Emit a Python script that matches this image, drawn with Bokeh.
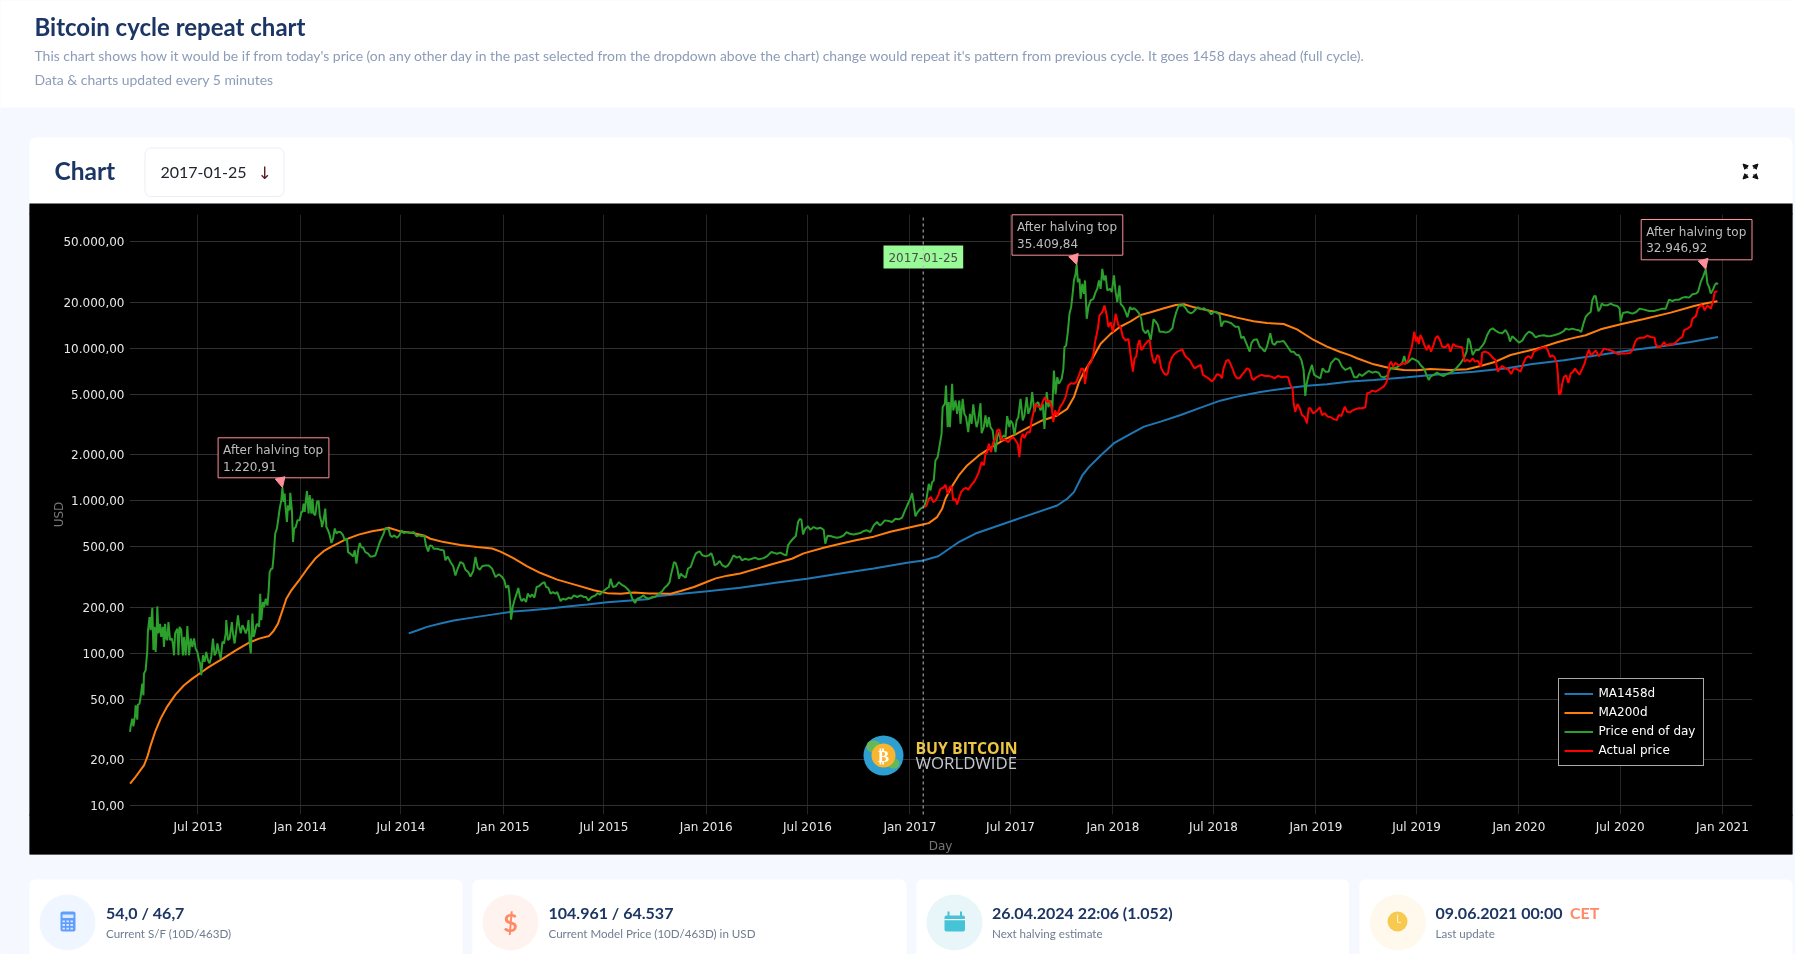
import math
import pandas as pd
from bokeh.plotting import figure
from bokeh.embed import file_html
from bokeh.resources import INLINE
from bokeh.models import (BoxAnnotation, Label, Legend, LegendItem, FixedTicker, Range1d,
                          Arrow, NormalHead)

BASE = pd.Timestamp("2013-02-28")

g1_d = [1,2,5,7,10,11,14,15,18,20,23,25,26,29,32,33,36,38,41,43,45,47,49,50,52,55,57,60,62,64,66,68,70,73,76,78,80,82,86,88,90,93,96,98,101,104,107,110,113,116,119,122,125,127,129,132,135,138,141,144,147,150,153,156,158,161,164,167,170,173,174,177,180,184,186,189,192,195,197,200,203,206,209,212,214,216,218,221,223,225,228,230,233,235,237,240,242,245,248,250,252,255,257,259,262,265,268,270,273,275,277,279,280,283,285,288,289,292,294,296,299,302,306,309,311,313,315,319,322,324,327,329,331,334,337,340,342,345,346,349,352,354,357,360,363,366,369,372,375,379,384,387,391,393,397,402,405,408,411,414,417,420,424,429,433,437,442,446,450,454,457,460]
g1_v = [30.5,32.9,37.3,33.2,39.2,45.6,36.7,46,46.8,51.7,63.2,53,73.6,77.3,104.6,138,173,142,199,105,149,102,149,203,135,156,128,149,110,156,125,122,160,122,125,116,97,135,145,97,149,142,97,128,97,151,97,125,110,125,107,102,90,86,72,97,88,102,90,86,95,125,97,102,116,102,92,119,116,135,165,122,125,160,135,116,142,177,153,135,153,145,135,145,165,116,100,182,128,135,153,156,149,246,165,217,201,228,206,252,341,359,359,428,610,658,783,889,1010,1220.91,983,1115,957,726,935,866,1127,866,537,658,673,745,745,845,845,957,845,1160,825,1090,825,1035,825,805,983,998,805,726,673,745,889,673,640,595,529,565,658,610,625,625,595,550,565,461,450,432,473,387,473,529,494,494,461,450,432,432,438,486,537,578,610,664]
g2_d = [466,469,472,476,481,485,489,493,499,505,511,516,520,526,530,533,537,540,544,547,553,559,565,568,572,577,582,586,590,595,600,604,609,613,618,622,626,630,634,640,646,652,658,664,670,674,677,681,683,685,686,689,692,696,699,702,705,709,713,716,720,724,728,732,736,741,746,749,753,757,761,766,769,775,779,784,790,794,799,805,811,817,821,825,831,838,841,846,850,854,859,862,865,869,874,880,884,890,895,900,904,909,913,919,924,928,934]
g2_v = [650,593,579,593,573,593,640,614,624,614,624,585,593,585,593,510,466,510,505,485,485,478,473,407,432,397,372,324,359,397,387,353,341,319,346,428,364,353,372,377,377,359,316,330,316,301,269,279,246,196,166,201,222,246,268,234,220,228,217,246,234,243,232,272,275,286,293,272,269,246,252,246,252,220,228,225,232,228,240,234,240,234,234,222,234,240,248,243,252,259,268,272,308,272,275,293,283,275,265,252,228,214,228,232,240,232,228]
g3_d = [940,946,952,958,962,967,971,974,977,979,982,985,988,991,994,1000,1004,1009,1013,1018,1022,1025,1030,1036,1042,1046,1049,1052,1057,1061,1066,1072,1076,1080,1086,1092,1097,1101,1107,1113,1119,1125,1131,1140,1146,1154,1158,1164,1170,1176,1181,1184,1188,1193,1198,1202,1205,1208,1211,1215,1220,1224,1230,1236,1242,1248,1251,1255,1260,1266,1272,1278,1284,1289,1295,1302,1308,1314,1320,1326,1332,1338,1344,1349,1353,1358,1365,1371,1377,1383,1389,1393,1397,1401,1404,1407,1410,1413,1417,1422,1427,1429]
g3_v = [234,236,246,256,269,279,293,333,368,397,391,359,308,333,324,313,359,368,407,450,461,466,439,432,439,454,424,377,387,403,377,368,377,397,439,424,432,407,417,411,417,424,413,421,432,461,457,450,457,445,439,510,537,564,587,726,759,752,602,656,680,646,673,656,666,646,523,590,587,579,573,579,593,624,608,602,608,614,634,640,624,690,726,690,708,744,737,726,763,756,775,844,910,982,1032,1124,957,790,844,887,910,919]
g4_d = [1433,1437,1440,1443,1446,1449,1453,1456,1460,1462,1466,1468,1471,1473,1475,1479,1481,1485,1488,1492,1494,1498,1501,1504,1508,1511,1514,1517,1520,1523,1526,1530,1532,1536,1539,1542,1545,1548,1552,1554,1557,1560,1564,1566,1569,1572,1575,1578,1582,1584,1588,1591,1595,1598,1602,1606,1609,1613,1616,1620,1623,1627,1630,1634,1638,1642,1645,1649,1652,1656,1659,1662,1665,1668,1671,1676,1679,1681,1684,1687,1690,1693,1696,1698,1701,1703,1705,1708,1710,1713,1716,1718,1721,1724,1728,1733,1737,1740,1743,1746,1749,1752,1755,1758,1763,1766,1770,1773,1776,1780,1782,1787,1791,1794,1799]
g4_v = [1031,1292,1169,1325,1359,1839,1933,2248,2750,4114,4325,5705,3041,4436,3041,5851,3911,4549,3720,4549,3198,4666,3720,3537,2820,3720,3198,4285,3537,3041,3363,4365,2778,3041,3627,3041,3537,3041,2892,2487,2085,2615,2820,2487,2615,2682,2615,3591,3041,3363,3198,2682,3363,3537,4666,3363,3627,4785,3720,4114,5160,3815,4325,4436,3911,4325,2965,5160,4114,4549,3911,7154,5030,6470,5851,6310,7337,10180,10437,12765,16830,18620,23350,27860,30800,35409.84,27160,28560,21120,26480,22770,27860,15610,18620,20590,21120,23350,24550,27860,24550,33200,27860,30030,23950,24550,23350,30030,23350,20090,25820,19590,18620,17270,16000,18620]
g5_d = [1802,1806,1810,1815,1819,1822,1827,1831,1836,1839,1841,1845,1849,1852,1858,1863,1869,1875,1878,1882,1887,1890,1894,1899,1903,1908,1912,1917,1921,1926,1932,1936,1940,1945,1950,1955,1960,1963,1967,1973,1981,1988,1994,1999,2003,2008,2014,2017,2021,2027,2032,2036,2041,2045,2051,2055,2059,2063,2069,2075,2080,2084,2088,2093,2098,2102,2107,2111,2114,2116,2120,2126,2130,2135,2141,2145,2150,2156,2160,2168,2174,2180,2186,2192,2195]
g5_v = [18020,18300,17840,16960,15730,13190,12540,13190,11340,13520,15490,14960,14220,12860,12860,12670,12860,13520,15340,17300,19240,18970,19240,18300,17370,16960,17220,18020,18560,18020,18300,17840,17660,16710,17370,17220,16540,13870,14960,14960,14590,13870,13870,11630,11930,10780,9510,10780,11340,11460,10250,10000,9510,10250,12540,10780,10520,11060,11060,11170,10520,10000,9510,9510,9040,9040,8390,7210,4870,5750,6690,7780,6690,6520,6360,7390,7030,7030,7970,8600,8390,7580,7210,7390,7510]
g6_d = [2198,2202,2207,2211,2216,2222,2228,2234,2240,2246,2250,2255,2261,2267,2273,2279,2284,2288,2292,2295,2300,2306,2312,2317,2321,2327,2332,2336,2339,2345,2351,2357,2363,2369,2375,2381,2387,2393,2399,2404,2407,2410,2413,2415,2420,2426,2432,2436,2441,2446,2451,2456,2462,2468,2474,2479,2482,2486,2492,2498,2504,2510,2516,2522,2528,2534,2537]
g6_v = [7030,6450,6450,6790,6590,6850,7100,6920,7030,6920,6520,6450,6590,7390,7390,7510,7780,7970,8910,7970,8180,8600,8390,8180,7780,7390,6690,6200,6520,6690,6920,6690,6590,6790,6920,7140,7510,7970,8600,9510,11630,11060,9750,9040,9750,9750,10360,10890,12230,13190,13520,13060,12670,12550,13190,12230,11060,11990,11460,10890,11230,12230,12860,12550,11800,12050,12110]
g7_d = [2543,2549,2555,2561,2567,2573,2579,2582,2588,2594,2600,2606,2610,2614,2618,2622,2627,2630,2633,2636,2638,2641,2644,2647,2651,2657,2663,2669,2675,2679,2681,2685,2693,2702,2709,2715,2723,2732,2741,2750,2756,2762,2768,2774,2780,2786,2792,2798,2804,2810,2816,2820,2825,2829,2834,2837,2840,2843,2847,2850,2853,2856]
g7_v = [12170,11990,12050,12170,12350,12600,13000,13460,13260,13460,13260,13120,12790,14510,16050,16710,17300,20640,21930,22040,20130,17480,18200,19630,19140,19140,19630,19140,18950,18200,15030,17050,17300,16880,17300,18200,17930,17570,17570,17930,18200,18200,20850,20430,20850,20850,21490,21710,21490,22600,22830,23400,27230,29370,32946.92,26550,25230,22830,24270,25880,26790,26300]

r1_d = [1430,1433,1437,1441,1445,1449,1454,1458,1463,1467,1471,1475,1478,1481,1485,1488,1492,1495,1500,1504,1508,1513,1518,1523,1527,1532,1536,1539,1542,1545,1549,1553,1557,1560,1564,1568,1572,1576,1580,1584,1589,1593,1597,1600,1603,1606,1609,1614,1619,1622,1626,1629,1633,1638,1643,1646,1650,1654,1658,1661,1664,1668,1673,1678,1683,1688,1693,1698,1702,1707,1711,1715,1718,1721,1724,1729,1733,1736,1741,1744,1749,1753,1757,1760,1764,1768,1773,1778,1782,1786,1791,1796,1800]
r1_v = [909,932,1031,1057,980,1005,1084,1198,1217,1273,1111,1229,1248,1005,1031,946,1057,1140,1198,1217,1180,1260,1325,1429,1542,1793,1705,2033,2085,2365,2085,2425,2551,2892,2937,2487,2551,2487,2425,2551,2615,2487,2365,1933,2551,2750,2576,2820,2820,3363,3911,4325,4156,4114,4549,4785,4436,4549,4114,3280,3911,3627,4114,4365,4785,5705,5910,5851,5999,6635,7337,7337,5851,6978,7719,8118,9204,10970,13420,16420,17270,19100,16420,13760,14850,12765,16830,14120,13760,11840,11250,11540,8970]
r2_d = [1804,1807,1810,1813,1816,1819,1822,1825,1830,1834,1837,1840,1843,1848,1851,1855,1860,1864,1867,1870,1875,1879,1884,1888,1893,1897,1902,1906,1911,1915,1920,1926,1930,1935,1940,1946,1951,1955,1960,1964,1967,1972,1976,1979,1984,1987,1991,1996,2000,2005,2009,2014,2018,2021,2026,2031,2036,2042,2048,2053,2059,2065,2072,2078,2083,2087,2091,2093,2096,2100,2104,2108,2113,2117,2120,2123,2128,2133,2140,2144,2149,2154,2160,2166,2171,2174,2179,2185,2189,2195]
r2_v = [7030,8600,8820,10520,11340,9750,10000,10520,11060,11340,9510,8390,7970,9040,8820,7390,6850,6690,6850,7970,8820,9180,9510,9650,9850,9040,8600,8390,7780,7390,7580,7780,6690,6520,6360,6050,6360,6750,6690,6360,7390,8300,8390,7970,7210,6690,6360,6360,6690,7030,7390,7210,6360,6200,6450,6590,6690,6590,6590,6520,6360,6590,6450,6520,6450,5750,5470,4360,3840,4310,4040,3650,3530,3220,4040,4040,3750,3840,4100,3650,3750,3565,3530,3420,3390,3650,3600,4140,3840,3800]
r3_d = [2198,2204,2210,2216,2222,2225,2230,2234,2240,2246,2250,2255,2259,2262,2265,2268,2272,2276,2281,2285,2289,2294,2299,2302,2305,2308,2310,2313,2315,2318,2321,2325,2328,2332,2336,2340,2344,2348,2352,2356,2360,2366,2371,2375,2380,2384,2390,2396,2400,2405,2410,2415,2419,2424,2430,2432,2437,2442,2447,2452,2456,2460,2464,2468,2474,2480,2484,2489,2495,2501,2506,2510,2515,2520,2525,2531,2537]
r3_v = [3900,3980,4040,4040,4100,5070,5120,5280,5200,5330,5470,5610,5900,6360,7780,8180,7580,8050,7780,7780,7970,7900,8390,9270,10000,11630,12860,11060,11930,10680,12230,11340,10520,9750,10520,9510,10360,11630,12050,11340,10250,10150,10680,9510,10680,10360,10250,10150,8180,8390,8180,8600,8180,8300,7580,9370,9510,9370,9040,8600,8390,7030,7390,7660,7390,7210,6790,7390,7280,7030,7970,8600,8910,8600,9510,9750,10000]
r4_d = [2540,2546,2550,2554,2558,2562,2566,2568,2570,2573,2576,2579,2583,2587,2591,2595,2599,2603,2607,2612,2616,2620,2624,2627,2631,2636,2642,2647,2651,2657,2663,2669,2676,2682,2690,2698,2702,2707,2711,2717,2723,2729,2735,2742,2744,2748,2754,2759,2763,2769,2775,2781,2787,2792,2795,2801,2807,2810,2816,2820,2825,2829,2832,2837,2843,2847,2850,2855]
r4_v = [10100,10200,9700,8770,9000,8770,8010,6820,4990,5040,5870,6480,6650,5930,6820,7000,7360,7000,6720,7360,7930,9000,9800,9000,9230,9700,8860,9460,9950,9800,9700,9460,9140,9230,9230,9320,9700,11000,11570,11740,11740,12110,11860,11740,10620,10200,10300,11000,10460,10620,10620,11000,11570,11860,13120,13460,13940,15650,16200,18200,19140,18950,17740,19140,18200,20130,23400,23650]

ma200_d = [1,11,26,32,38,46,56,68,83,98,113,128,143,167,191,215,233,251,259,267,275,282,291,304,319,334,349,364,388,412,436,460,466,487,511,529,541,565,595,625,652,667,691,715,739,769,805,835,859,883,907,934,943,973,991,1015,1033,1054,1075,1098,1128,1158,1191,1212,1248,1278,1308,1338,1368,1398,1428,1437,1452,1461,1467,1476,1491,1506,1527,1548,1572,1593,1617,1641,1668,1686,1698,1707,1716,1731,1746,1764,1782,1800,1818,1836,1860,1881,1896,1914,1944,1967,1991,2021,2045,2075,2099,2129,2153,2177,2195,2207,2237,2267,2291,2315,2339,2375,2405,2429,2453,2483,2513,2537,2567,2591,2618,2645,2681,2723,2771,2813,2837,2855]
ma200_v = [14,15.5,18.4,20.9,24.9,30.5,37.3,44.9,53.8,61.7,68.2,74.6,81.4,92,104.6,117.5,124.8,130,140,156.5,191,228,259,298,356,418,467,503,556,600,631,653,666,630,614,593,564,536,513,497,487,464,419,372,336,304,279,259,248,246,250,247,247,246,256,272,289,310,323,334,359,387,417,452,492,523,553,582,627,663,701,714,782,886,1031,1198,1466,1705,1983,2226,2513,2723,3041,3363,3627,4010,4785,5999,6978,8530,10700,12440,13900,15000,16540,17220,18300,19240,19440,18560,17570,16710,15890,15040,14660,14440,13320,11340,10250,9460,8990,8600,7850,7390,7210,7170,7320,7210,7280,7660,8090,9040,9600,10100,10950,11570,12170,13320,14370,15580,17140,18950,19830,20340]
ma1458_d = [502,517,535,559,583,619,655,685,715,751,787,823,859,895,931,949,979,1039,1098,1158,1218,1278,1338,1398,1427,1454,1490,1521,1585,1668,1686,1698,1713,1725,1746,1770,1800,1824,1854,1890,1926,1961,1991,2033,2081,2117,2153,2195,2237,2297,2357,2417,2477,2519,2579,2639,2699,2759,2807,2856]
ma1458_v = [135,141,149,157,164,172,180,187,191,196,203,209,216,221,226,237,243,255,269,289,308,334,360,393,406,433,533,610,735,932,1031,1140,1466,1663,1983,2388,2750,3063,3306,3655,4085,4535,4820,5175,5470,5690,5810,6050,6200,6450,6760,7030,7390,7850,8340,9000,9700,10360,11000,11860]

price_days = g1_d + g2_d + g3_d + g4_d + g5_d + g6_d + g7_d
price_vals = g1_v + g2_v + g3_v + g4_v + g5_v + g6_v + g7_v
actual_days = r1_d + r2_d + r3_d + r4_d
actual_vals = r1_v + r2_v + r3_v + r4_v

x_tick_dates = ["2013-07-01","2014-01-01","2014-07-01","2015-01-01","2015-07-01","2016-01-01","2016-07-01","2017-01-01",
                "2017-07-01","2018-01-01","2018-07-01","2019-01-01","2019-07-01","2020-01-01","2020-07-01","2021-01-01"]
x_tick_labels = ["Jul 2013","Jan 2014","Jul 2014","Jan 2015","Jul 2015","Jan 2016","Jul 2016","Jan 2017",
                 "Jul 2017","Jan 2018","Jul 2018","Jan 2019","Jul 2019","Jan 2020","Jul 2020","Jan 2021"]
y_ticks = [10,20,50,100,200,500,1000,2000,5000,10000,20000,50000]
y_labels = ["10,00","20,00","50,00","100,00","200,00","500,00","1.000,00","2.000,00","5.000,00","10.000,00","20.000,00","50.000,00"]
selected_date = "2017-01-25"
tops = [(275, 1220.91, "1.220,91"), (1703, 35409.84, "35.409,84"), (2834, 32946.92, "32.946,92")]


def dt(days):
    return BASE + pd.to_timedelta(days, unit="D")


def ms(ts):
    return ts.value / 1e6


L, R, T, B = 129, 1752, 214, 814
W, H = 1795, 954
PAGE = "Lato"
CHART = "DejaVu Sans"
NAVY = "#1b3564"


def xv(px):
    return dt((px - L) / 0.5562)


def yv(py):
    return 10 ** (1 + (805.3 - py) / 152.5)


p = figure(width=W, height=H, output_backend="svg", toolbar_location=None,
           x_axis_type="datetime", y_axis_type="log",
           x_range=Range1d(xv(0), xv(W)), y_range=Range1d(yv(H), yv(0)),
           min_border=0, background_fill_color="#f5f8ff", border_fill_color="#f5f8ff", outline_line_color=None)
p.styles = {"position": "fixed", "left": "0px", "top": "0px"}


def sx(px):
    return px


def sy(py):
    return H - py


def box(l, t, r, b, color, level="underlay", radius=0, line=None):
    p.add_layout(BoxAnnotation(left=sx(l), right=sx(r), top=sy(t), bottom=sy(b),
                               left_units="screen", right_units="screen", top_units="screen", bottom_units="screen",
                               fill_color=color, fill_alpha=1, line_color=line, line_alpha=1 if line else 0, line_width=1,
                               level=level, border_radius=radius))


def lab(px, py, text, color, size, font=PAGE, style="normal", align="left", angle=0, level="annotation"):
    p.add_layout(Label(x=sx(px), y=sy(py), x_units="screen", y_units="screen", text=text, text_color=color,
                       text_font=font, text_font_size=f"{size}px", text_font_style=style, text_align=align,
                       text_baseline="middle", angle=angle, level=level))


PALE = "#f5f8ff"
# black plot background sits beneath the grid
box(29, 203, 1792, 854, "#000000", level="image")
# everything round the plot hides the ends of the grid lines
box(-5, -5, W + 5, 203, PALE)
box(-5, 203, 29, 854, PALE)
box(1792, 203, W + 5, 854, PALE)
box(-5, 854, W + 5, H + 5, PALE)
box(-5, -5, W + 5, 107, "#ffffff")
box(29, 137, 1792, 204, "#ffffff", radius=(6, 6, 0, 0))
box(29, 203, 1792, T, "#000000")
box(29, T - 1, L, B + 1, "#000000")
box(R, T - 1, 1792, B + 1, "#000000")
box(29, B, 1792, 854, "#000000")

lab(34, 26, "Bitcoin cycle repeat chart", NAVY, 24, style="bold")
lab(34, 55, "This chart shows how it would be if from today's price (on any other day in the past selected from the dropdown above the chart) change would repeat it's pattern from previous cycle. It goes 1458 days ahead (full cycle).", "#8c9cb8", 13.95)
lab(34, 78.5, "Data & charts updated every 5 minutes", "#8c9cb8", 13.95)
lab(54, 170, "Chart", NAVY, 24.5, style="bold")
box(144.5, 147.5, 283.5, 196, "#ffffff", radius=6, line="#e9edf6")
lab(160, 172, selected_date, "#20242c", 16)
lab(264, 172, "\u2193", "#5a1822", 17, font="DejaVu Sans", align="center")

for dx, dy in [(-1, -1), (1, -1), (-1, 1), (1, 1)]:
    p.add_layout(Arrow(x_start=sx(1750 + 3 * dx), y_start=sy(171 + 3 * dy), x_end=sx(1750 + 7.5 * dx), y_end=sy(171 + 7.5 * dy),
                       start_units="screen", end_units="screen", line_color="#111111", line_width=1.5,
                       end=NormalHead(size=5, fill_color="#111111", line_color="#111111", line_width=1), level="annotation"))

cards = [(29, 462, 67, "#f0f6ff", 105.5, "54,0 / 46,7", "Current S/F (10D/463D)"),
         (472, 906, 510, "#fff3ef", 548, "104.961 / 64.537", "Current Model Price (10D/463D) in USD"),
         (916, 1348.5, 954, "#e8f6f9", 991.5, "26.04.2024 22:06 (1.052)", "Next halving estimate"),
         (1359, 1792, 1397.5, "#fef9ec", 1435, "09.06.2021 00:00", "Last update")]
for l, r, cx, col, tx, main, sub in cards:
    box(l, 879, r, 960, "#ffffff", radius=(6, 6, 0, 0))
    box(cx - 28, 894, cx + 28, 950, col, radius=28)
    lab(tx, 912, main, NAVY, 16, style="bold")
    lab(tx, 932.5, sub, "#6f7c90", 11.6)
lab(1569.5, 912, "CET", "#ff8a65", 16, style="bold")

# card icons
box(60, 911, 75, 931, "#5f9dff", radius=2)
box(62, 914, 73, 917.5, "#dce9ff")
for i in range(3):
    for j in range(3):
        box(62 + i * 4, 920 + j * 3.6, 64.4 + i * 4, 921.8 + j * 3.6, "#dce9ff")
lab(510, 921, "$", "#ff8a65", 25, style="bold", align="center")
box(944, 915, 964.5, 931, "#46c3d6", radius=2)
box(947, 911, 949, 917, "#46c3d6")
box(959.5, 911, 961.5, 917, "#46c3d6")
box(944, 918.5, 964.5, 919.7, "#ffffff")
box(1387, 911, 1407, 931, "#f7c94f", radius=10)
box(1396.6, 914, 1397.6, 922, "#fff4d2")
box(1397.4, 921.4, 1400.5, 922.4, "#fff4d2")

# chart axes, fixed at the edges of the plot area
x_ms = [ms(pd.Timestamp(d)) for d in x_tick_dates]
p.xaxis.ticker = FixedTicker(ticks=x_ms)
p.xaxis.major_label_overrides = dict(zip(x_ms, x_tick_labels))
p.yaxis.ticker = FixedTicker(ticks=y_ticks)
p.yaxis.major_label_overrides = dict(zip(y_ticks, y_labels))
p.xaxis.fixed_location = yv(B)
p.yaxis.fixed_location = ms(xv(L))
for ax in (p.xaxis[0], p.yaxis[0]):
    ax.axis_line_color = None
    ax.major_tick_line_color = None
    ax.minor_tick_line_color = None
    ax.major_tick_out = 0
    ax.major_tick_in = 0
    ax.minor_tick_out = 0
    ax.minor_tick_in = 0
    ax.major_label_text_color = "#e6e6e6"
    ax.major_label_text_font = CHART
    ax.major_label_text_font_size = "12px"
p.xaxis.major_label_standoff = 5
p.yaxis.major_label_standoff = 5
p.xgrid.grid_line_color = "#252525"
p.ygrid.grid_line_color = "#303030"
p.xgrid.grid_line_width = 1
p.ygrid.grid_line_width = 1
if "cross_bounds" in p.xgrid[0].properties():
    p.xgrid[0].cross_bounds = (yv(B), yv(T))
    p.ygrid[0].cross_bounds = (ms(xv(L)), ms(xv(R)))
lab(940, 845.7, "Day", "#777777", 12, font=CHART, align="center")
lab(58.5, 514, "USD", "#777777", 12, font=CHART, align="center", angle=math.pi / 2)

# logo
box(863, 735, 903, 775, "#2f9fd2", radius=20)
box(866, 740, 880, 752, "#63b95a", radius=6)
box(887, 758, 899, 768, "#63b95a", radius=5)
box(871, 743, 895, 767, "#f9b52d", radius=12)
lab(883, 755, "\u20bf", "#ffffff", 17, font="DejaVu Sans", style="bold", align="center")
lab(915, 747, "BUY BITCOIN", "#eec643", 15.8, font="Open Sans", style="bold")
lab(915, 761.5, "WORLDWIDE", "#c4c9cf", 16.8, font="Open Sans")

# series
blue = p.line([dt(d) for d in ma1458_d], ma1458_v, line_color="#1f77b4", line_width=2)
orange = p.line([dt(d) for d in ma200_d], ma200_v, line_color="#ff7f0e", line_width=2)
green = p.line([dt(d) for d in price_days], price_vals, line_color="#2ca02c", line_width=2)
red = p.line([dt(d) for d in actual_days], actual_vals, line_color="#ff0000", line_width=2)

sel = pd.Timestamp(selected_date)
p.line([sel, sel], [yv(217), yv(B)], line_color="#bbbbbb", line_dash="3 3", line_width=1, level="overlay")
box(883, 245, 962.7, 268, "#98fb98", level="annotation")
lab(922.8, 256.5, selected_date, "#4b4b4b", 12, font=CHART, align="center")

# top annotations
boxes = [(217.6, 437.3, 328.4, 477.3, 279.6), (1011.5, 214.3, 1122.3, 254.7, 1073), (1640.7, 219, 1751.5, 259.3, 1702.7)]
for (d, v, txt), (l, t, r, b, ax) in zip(tops, boxes):
    box(l, t, r, b, "#000000", level="annotation", line="#ff8f98")
    lab(l + 5, t + 12.3, "After halving top", "#bdbdbd", 12, font=CHART)
    lab(l + 5, t + 28.3, txt, "#bdbdbd", 12, font=CHART)
    p.add_layout(Arrow(x_start=sx(ax), y_start=sy(b), x_end=ms(dt(d)), y_end=v, start_units="screen", end_units="data",
                       line_color="#ff8f98", line_width=1.5,
                       end=NormalHead(size=10, fill_color="#ff8f98", line_color="#ff8f98"), level="annotation"))

legend = Legend(items=[LegendItem(label="MA1458d", renderers=[blue]), LegendItem(label="MA200d", renderers=[orange]),
                       LegendItem(label="Price end of day", renderers=[green]), LegendItem(label="Actual price", renderers=[red])],
                location=(sx(1557.5), sy(765.7)), margin=0, padding=5, spacing=0, glyph_width=29, glyph_height=19,
                label_height=19, label_width=99, label_standoff=6, label_text_color="#ffffff", label_text_font=CHART,
                label_text_font_size="12px", background_fill_color="#000000", background_fill_alpha=1,
                border_line_color="#aaaaaa", border_line_width=1, border_line_alpha=1)
p.add_layout(legend)

open("out.html", "w").write(file_html(p, INLINE))
